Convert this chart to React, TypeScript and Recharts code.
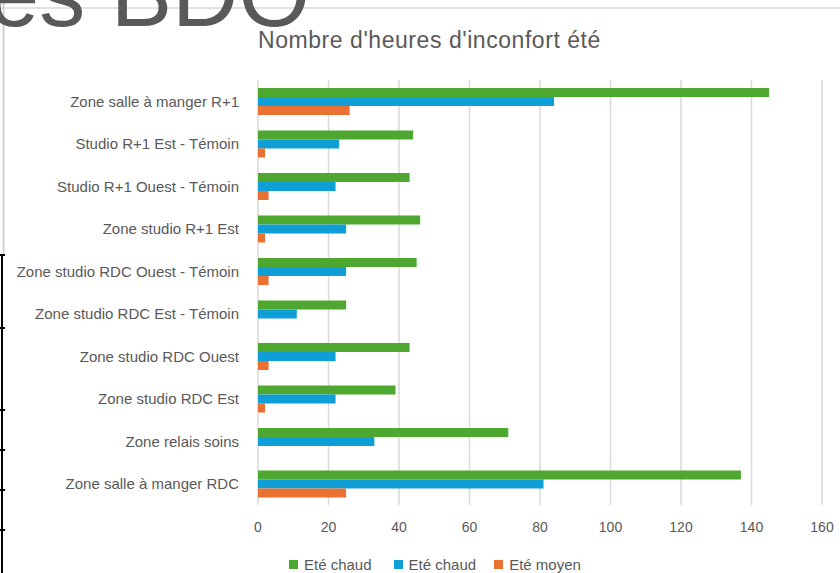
import React from "react";
import { BarChart, Bar, XAxis, YAxis, CartesianGrid, Legend } from "recharts";

const categories = [
  "Zone salle à manger R+1",
  "Studio R+1 Est - Témoin",
  "Studio R+1 Ouest - Témoin",
  "Zone studio R+1 Est",
  "Zone studio RDC Ouest - Témoin",
  "Zone studio RDC Est - Témoin",
  "Zone studio RDC Ouest",
  "Zone studio RDC Est",
  "Zone relais soins",
  "Zone salle à manger RDC",
];
const eteChaud1 = [145, 44, 43, 46, 45, 25, 43, 39, 71, 137];
const eteChaud2 = [84, 23, 22, 25, 25, 11, 22, 22, 33, 81];
const eteMoyen = [26, 2, 3, 2, 3, 0, 3, 2, 0, 25];
const xTicks = [0, 20, 40, 60, 80, 100, 120, 140, 160];
const seriesNames = ["Eté chaud", "Eté chaud", "Eté moyen"];
const colors = ["#4EA72E", "#0F9ED5", "#E97132"];
const title = "Nombre d'heures d'inconfort été";

const data = categories.map((name, i) => ({
  name,
  s1: eteChaud1[i],
  s2: eteChaud2[i],
  s3: eteMoyen[i],
}));

const FONT = "'Liberation Sans', Arial, sans-serif";
const TXT = "#595959";

const LegendContent = () => (
  <div style={{ display: "flex", justifyContent: "flex-start", paddingLeft: 289, fontFamily: FONT, fontSize: 15, color: TXT }}>
    {seriesNames.map((n, i) => (
      <div key={i} style={{ display: "flex", alignItems: "center", marginRight: i === 0 ? 22 : 18 }}>
        <span style={{ width: 9, height: 9, background: colors[i], display: "inline-block", marginRight: 6 }} />
        <span>{n}</span>
      </div>
    ))}
  </div>
);

export default function App() {
  return (
    <div style={{ position: "fixed", left: 0, top: 0, width: 840, height: 573, background: "#fff", overflow: "hidden" }}>
      <svg width={840} height={573} style={{ position: "absolute", left: 0, top: 0 }}>
        <line x1={0} y1={8} x2={840} y2={8} stroke="#d9d9d9" strokeWidth={1.5} />
        <line x1={3.5} y1={0} x2={3.5} y2={255} stroke="#d0d0d0" strokeWidth={2} />
        <line x1={2} y1={255} x2={2} y2={573} stroke="#000" strokeWidth={2} />
        {[255, 328, 410, 450, 490, 530].map((y) => (
          <line key={y} x1={0} y1={y} x2={5} y2={y} stroke="#000" strokeWidth={2} />
        ))}
        <text x={-12} y={26} fontFamily={FONT} fontSize={92} fill={TXT}>es BDO</text>
      </svg>
      <div style={{ position: "absolute", left: 258, top: 27, fontFamily: FONT, fontSize: 23, letterSpacing: 0.55, color: TXT, whiteSpace: "nowrap" }}>
        {title}
      </div>
      <div style={{ position: "absolute", left: 0, top: 0 }}>
        <BarChart
          width={840}
          height={573}
          layout="vertical"
          data={data}
          margin={{ top: 80, right: 18, bottom: 38, left: 0 }}
          barGap={0}
          barSize={9}
        >
          <CartesianGrid horizontal={false} stroke="#d9d9d9" strokeWidth={1.5} />
          <XAxis
            type="number"
            domain={[0, 160]}
            ticks={xTicks}
            axisLine={false}
            tickLine={false}
            tickSize={0}
            tickMargin={17}
            height={30}
            tick={{ fill: TXT, fontSize: 14, fontFamily: FONT }}
          />
          <YAxis
            type="category"
            dataKey="name"
            width={258}
            interval={0}
            axisLine={false}
            tickLine={false}
            tickSize={0}
            tickMargin={19}
            tick={{ fill: TXT, fontSize: 15, fontFamily: FONT }}
          />
          <Legend
            layout="horizontal"
            verticalAlign="middle"
            align="center"
            wrapperStyle={{ top: 556, left: 0, width: 840 }}
            content={<LegendContent />}
          />
          <Bar dataKey="s1" name={seriesNames[0]} fill={colors[0]} isAnimationActive={false} />
          <Bar dataKey="s2" name={seriesNames[1]} fill={colors[1]} isAnimationActive={false} />
          <Bar dataKey="s3" name={seriesNames[2]} fill={colors[2]} isAnimationActive={false} />
        </BarChart>
      </div>
    </div>
  );
}
